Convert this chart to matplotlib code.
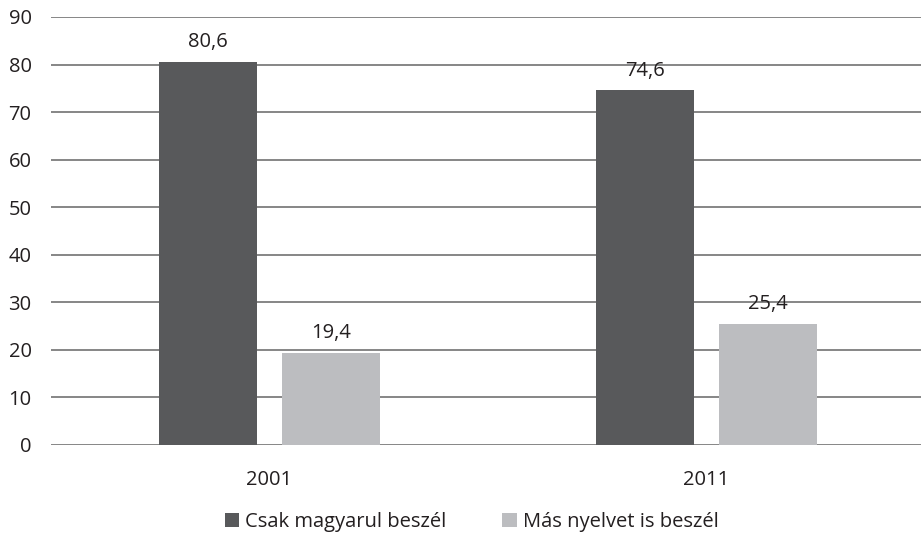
import numpy as np
import matplotlib.pyplot as plt

plt.rcParams['font.family'] = ['Open Sans', 'DejaVu Sans']

# data
years = ['2001', '2011']
csak_magyarul = [80.6, 74.6]
mas_nyelvet = [19.4, 25.4]
series_names = ['Csak magyarul beszél', 'Más nyelvet is beszél']
colors = ['#58595b', '#bcbdc0']

fig = plt.figure(figsize=(9.21, 5.39), dpi=100)
ax = fig.add_axes([51 / 921, 1 - 445 / 539, (925 - 51) / 921, (445 - 17) / 539])

x = np.arange(len(years))
width = 0.224
offset = 0.141
fs = 14.5

for vals, name, col, sign in [(csak_magyarul, series_names[0], colors[0], -1),
                              (mas_nyelvet, series_names[1], colors[1], 1)]:
    bars = ax.bar(x + sign * offset, vals, width, color=col, label=name, zorder=3)
    for b, v in zip(bars, vals):
        ax.annotate(f'{v:.1f}'.replace('.', ','), (b.get_x() + b.get_width() / 2, v),
                    xytext=(0, 7), textcoords='offset points', ha='center', va='bottom',
                    fontsize=fs, color='#231f20', zorder=4)

ax.set_xlim(-0.5, 1.5)
ax.set_ylim(0, 90)
ax.set_yticks(np.arange(0, 91, 10))
ax.set_xticks(x)
ax.set_xticklabels(years)
ax.grid(axis='y', color='#868686', linewidth=1.4, zorder=0)
for s in ['top', 'right', 'left', 'bottom']:
    ax.spines[s].set_visible(False)
ax.tick_params(axis='both', length=0, labelsize=fs, colors='#231f20')
ax.tick_params(axis='y', pad=14)
ax.tick_params(axis='x', pad=18)

fig.legend(loc='lower center', bbox_to_anchor=(0.512, -0.02), ncol=2, frameon=False,
           fontsize=fs, handlelength=0.7, handleheight=0.7, handletextpad=0.3,
           columnspacing=2.8, labelcolor='#231f20')

fig.savefig('out.png', dpi=100)
